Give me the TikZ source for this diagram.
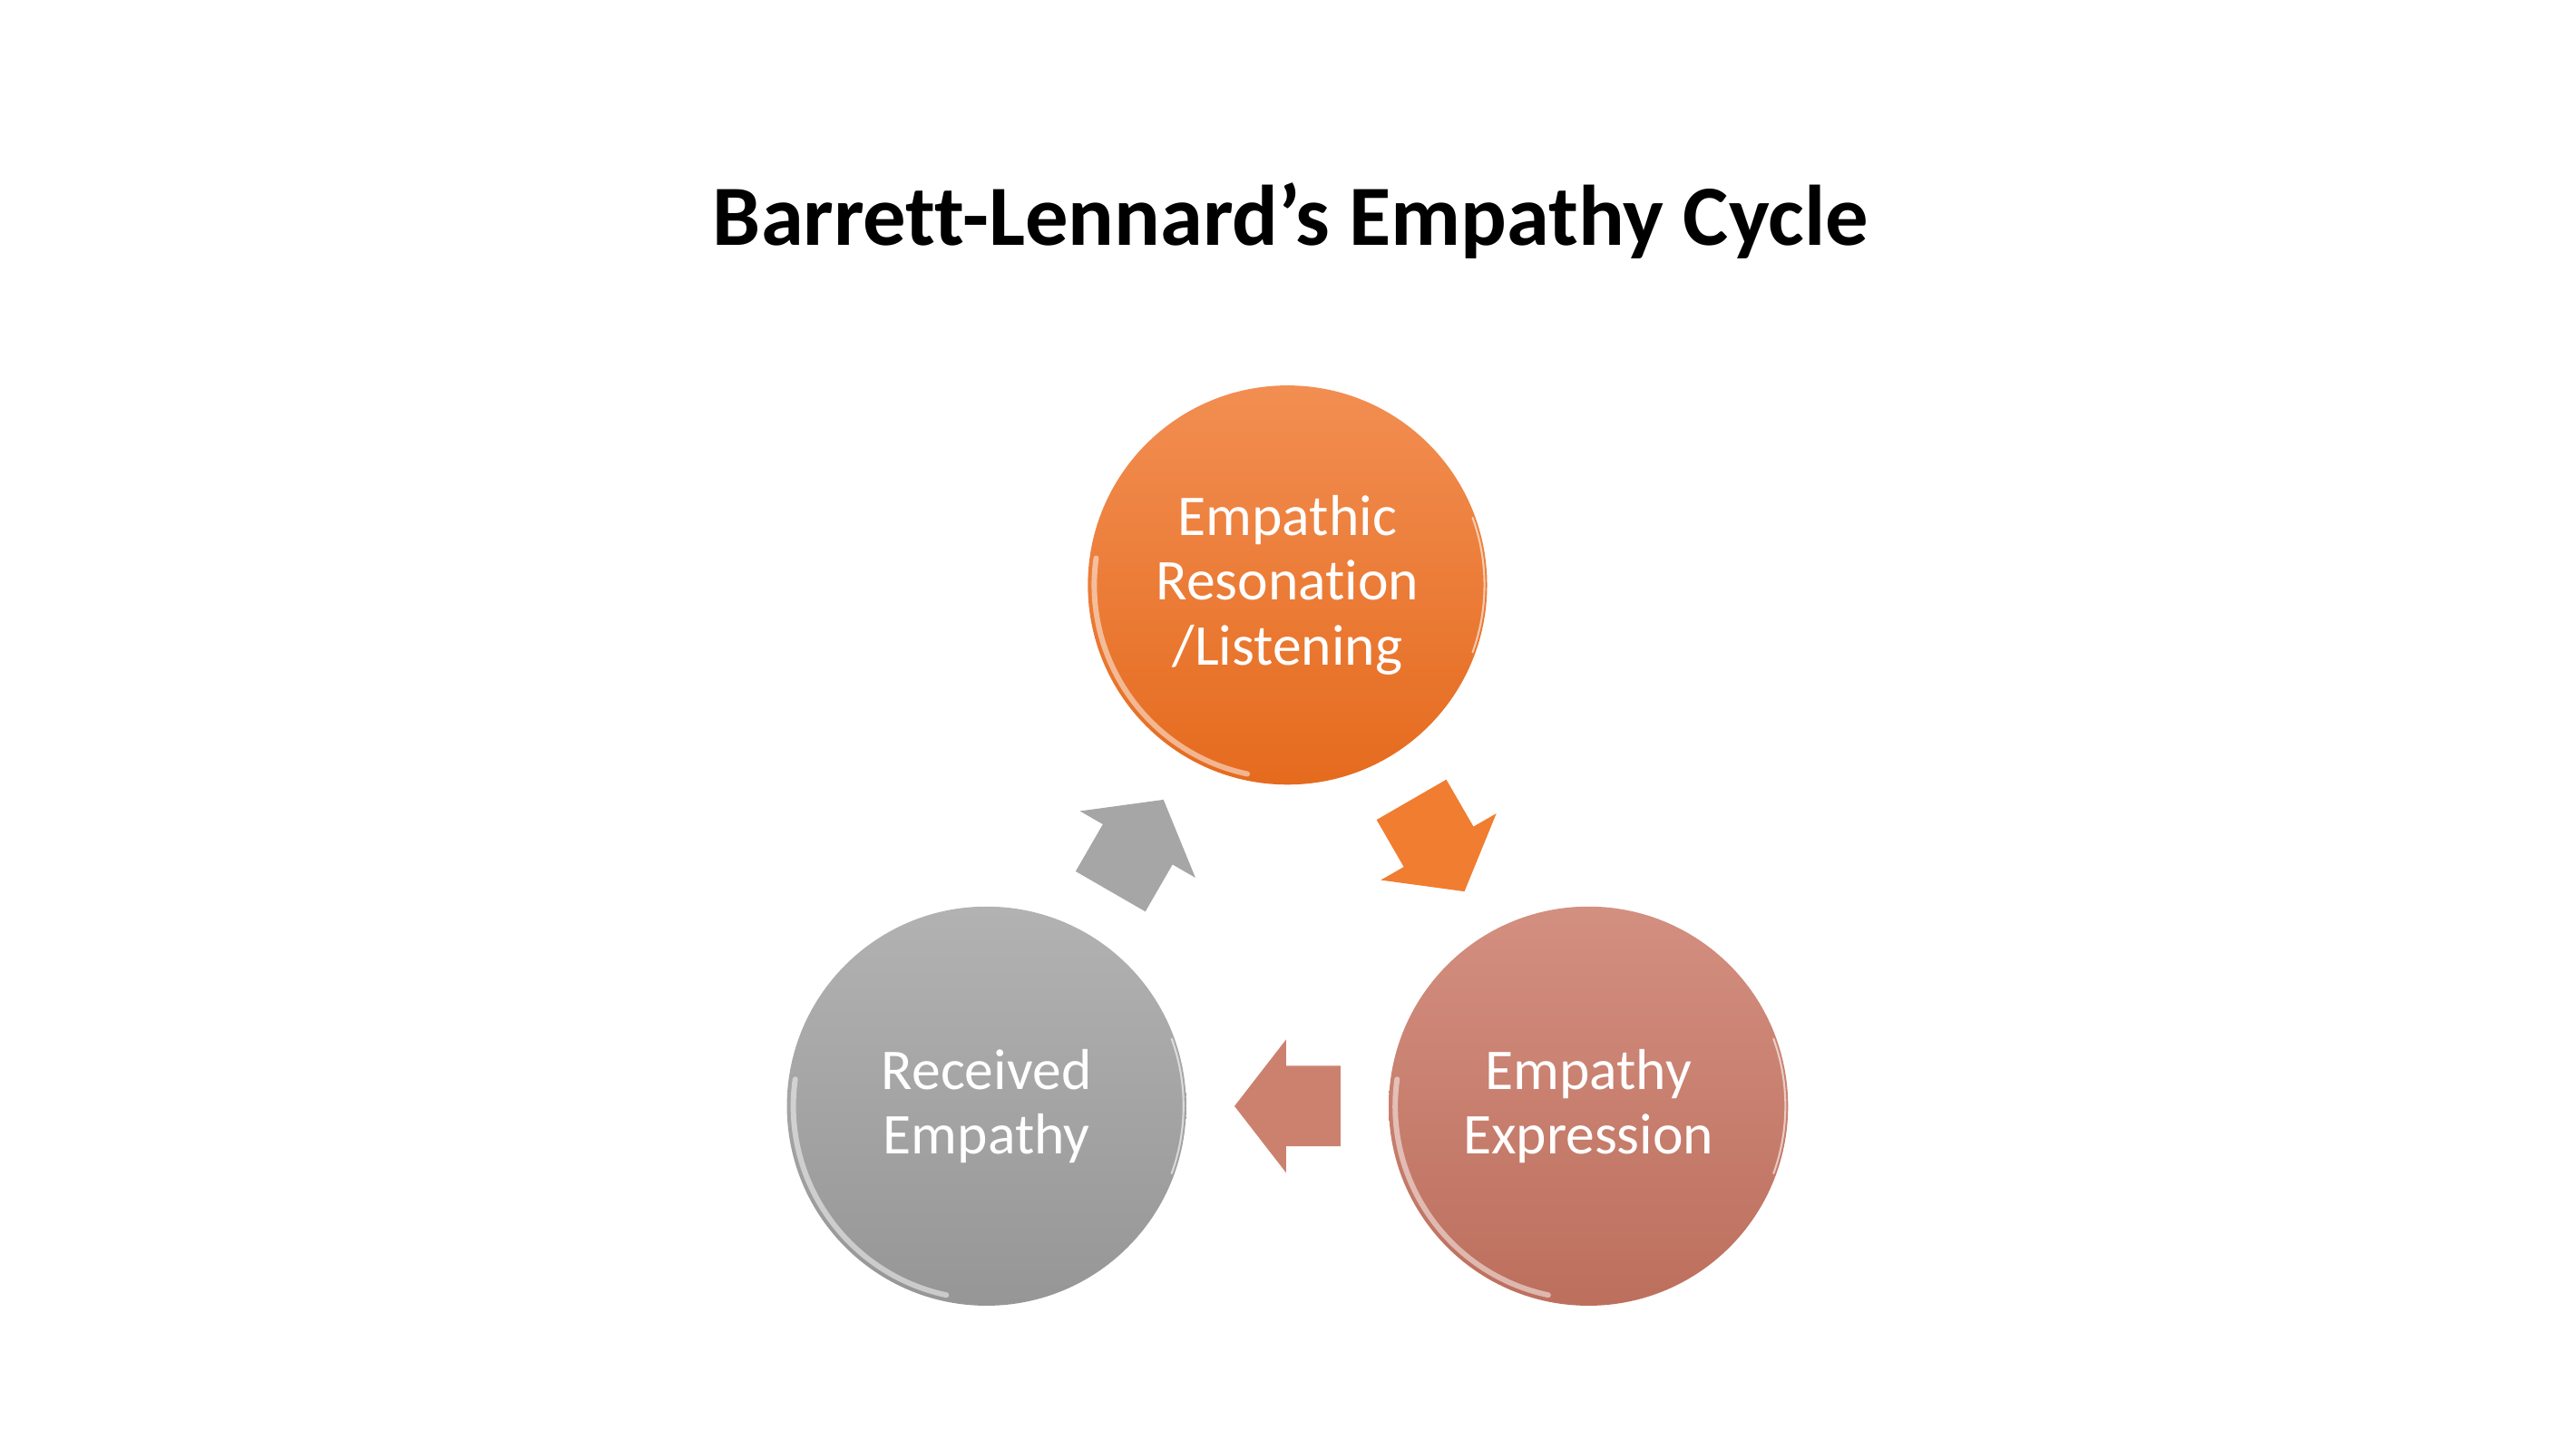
\documentclass[tikz,border=0pt]{standalone}
\usepackage{fontspec}
\setmainfont{Carlito}[Ligatures=NoCommon]
\usetikzlibrary{calc,positioning}

\definecolor{listenTop}{RGB}{242,142,82}
\definecolor{listenBot}{RGB}{229,107,30}
\definecolor{expressTop}{RGB}{211,143,128}
\definecolor{expressBot}{RGB}{189,111,93}
\definecolor{receiveTop}{RGB}{178,178,178}
\definecolor{receiveBot}{RGB}{150,150,150}
\definecolor{arrowOrange}{RGB}{240,125,48}
\definecolor{arrowSalmon}{RGB}{204,129,111}
\definecolor{arrowGray}{RGB}{166,166,166}

\tikzset{
  stage/.style={circle, minimum size=148.8pt, inner sep=0pt, text=white,
    align=center, font=\fontsize{21.5}{24.2}\selectfont},
  rim/.style={white, line width=2pt, opacity=0.5, line cap=round},
  gloss/.style={white, line width=0.7pt, opacity=0.6, line cap=round},
}

% block arrow: #1 = centre, #2 = direction, #3 = colour
\newcommand{\cyclearrow}[3]{%
  \fill[#3, shift={(#1)}, rotate=#2]
    (19.75,0) -- (0.5,24.85) -- (0.5,15) -- (-19.75,15)
    -- (-19.75,-15) -- (0.5,-15) -- (0.5,-24.85) -- cycle;}

\begin{document}
\begin{tikzpicture}[x=1pt,y=1pt]
    \useasboundingbox (0,0) rectangle (960,540);

    % Title
    \node[font=\fontsize{32}{38}\selectfont\bfseries, anchor=base] (title)
        at (481,448.7) {Barrett-Lennard’s Empathy Cycle};

    % Stages
    \coordinate (mid) at (479.8,192.4);
    \node[stage, top color=listenTop, bottom color=listenBot] (listen)
        at ($(mid)+(90:129.5)$) {Empathic\\Resonation\\/Listening};
    \node[stage, top color=expressTop, bottom color=expressBot] (express)
        at ($(mid)+(-30:129.5)$) {Empathy\\Expression};
    \node[stage, top color=receiveTop, bottom color=receiveBot] (receive)
        at ($(mid)+(210:129.5)$) {Received\\Empathy};
    \foreach \n in {listen, express, receive} {
        \draw[rim] ($(\n.center)+(172:72)$) arc (172:258:72);
        \draw[gloss] ($(\n.center)+(-20:73.4)$) arc (-20:20:73.4);
    }

    % Arrows
    \coordinate (a1) at ($(listen)!0.5!(express)$);
    \coordinate (a2) at ($(express)!0.5!(receive)$);
    \coordinate (a3) at ($(receive)!0.5!(listen)$);
    \cyclearrow{a1}{-60}{arrowOrange}
    \cyclearrow{a2}{180}{arrowSalmon}
    \cyclearrow{a3}{60}{arrowGray}
\end{tikzpicture}
\end{document}
